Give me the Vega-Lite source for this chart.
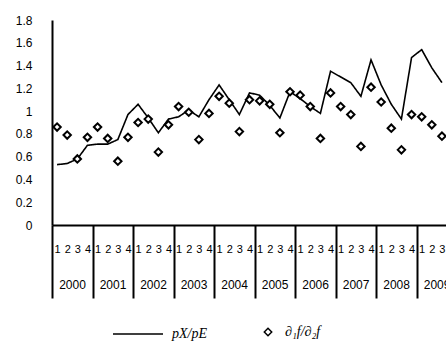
{
  "$schema": "https://vega.github.io/schema/vega-lite/v6.json",
  "autosize": "none",
  "padding": {"left": 52, "top": 20, "right": 0, "bottom": 118},
  "width": 395,
  "height": 205,
  "background": "white",
  "config": {
    "view": {"stroke": null},
    "font": "Liberation Sans",
    "axis": {"labelColor": "black", "labelFont": "Liberation Sans", "grid": false, "title": null},
    "axisY": {
      "values": [0, 0.2, 0.4, 0.6, 0.8, 1, 1.2, 1.4, 1.6, 1.8],
      "format": ".1~f",
      "ticks": false, "tickSize": 0,
      "domainColor": "black", "domainWidth": 2,
      "labelPadding": 20, "labelFontSize": 12,
      "labelOverlap": false, "labelFlush": false, "labelBound": false
    }
  },
  "data": {
    "values": [
      {"i": 1, "year": 2000, "q": 1, "px": 0.53, "ratio": 0.86},
      {"i": 2, "year": 2000, "q": 2, "px": 0.54, "ratio": 0.79},
      {"i": 3, "year": 2000, "q": 3, "px": 0.58, "ratio": 0.58},
      {"i": 4, "year": 2000, "q": 4, "px": 0.70, "ratio": 0.77},
      {"i": 5, "year": 2001, "q": 1, "px": 0.71, "ratio": 0.86},
      {"i": 6, "year": 2001, "q": 2, "px": 0.71, "ratio": 0.76},
      {"i": 7, "year": 2001, "q": 3, "px": 0.75, "ratio": 0.56},
      {"i": 8, "year": 2001, "q": 4, "px": 0.97, "ratio": 0.77},
      {"i": 9, "year": 2002, "q": 1, "px": 1.06, "ratio": 0.90},
      {"i": 10, "year": 2002, "q": 2, "px": 0.94, "ratio": 0.93},
      {"i": 11, "year": 2002, "q": 3, "px": 0.81, "ratio": 0.64},
      {"i": 12, "year": 2002, "q": 4, "px": 0.93, "ratio": 0.88},
      {"i": 13, "year": 2003, "q": 1, "px": 0.95, "ratio": 1.04},
      {"i": 14, "year": 2003, "q": 2, "px": 1.01, "ratio": 0.99},
      {"i": 15, "year": 2003, "q": 3, "px": 0.95, "ratio": 0.75},
      {"i": 16, "year": 2003, "q": 4, "px": 1.10, "ratio": 0.98},
      {"i": 17, "year": 2004, "q": 1, "px": 1.23, "ratio": 1.13},
      {"i": 18, "year": 2004, "q": 2, "px": 1.10, "ratio": 1.07},
      {"i": 19, "year": 2004, "q": 3, "px": 0.97, "ratio": 0.82},
      {"i": 20, "year": 2004, "q": 4, "px": 1.16, "ratio": 1.10},
      {"i": 21, "year": 2005, "q": 1, "px": 1.14, "ratio": 1.09},
      {"i": 22, "year": 2005, "q": 2, "px": 1.05, "ratio": 1.06},
      {"i": 23, "year": 2005, "q": 3, "px": 0.94, "ratio": 0.81},
      {"i": 24, "year": 2005, "q": 4, "px": 1.17, "ratio": 1.17},
      {"i": 25, "year": 2006, "q": 1, "px": 1.11, "ratio": 1.14},
      {"i": 26, "year": 2006, "q": 2, "px": 1.04, "ratio": 1.04},
      {"i": 27, "year": 2006, "q": 3, "px": 0.98, "ratio": 0.76},
      {"i": 28, "year": 2006, "q": 4, "px": 1.35, "ratio": 1.16},
      {"i": 29, "year": 2007, "q": 1, "px": 1.30, "ratio": 1.04},
      {"i": 30, "year": 2007, "q": 2, "px": 1.25, "ratio": 0.97},
      {"i": 31, "year": 2007, "q": 3, "px": 1.13, "ratio": 0.69},
      {"i": 32, "year": 2007, "q": 4, "px": 1.45, "ratio": 1.21},
      {"i": 33, "year": 2008, "q": 1, "px": 1.23, "ratio": 1.08},
      {"i": 34, "year": 2008, "q": 2, "px": 1.06, "ratio": 0.85},
      {"i": 35, "year": 2008, "q": 3, "px": 0.93, "ratio": 0.66},
      {"i": 36, "year": 2008, "q": 4, "px": 1.47, "ratio": 0.97},
      {"i": 37, "year": 2009, "q": 1, "px": 1.54, "ratio": 0.95},
      {"i": 38, "year": 2009, "q": 2, "px": 1.38, "ratio": 0.88},
      {"i": 39, "year": 2009, "q": 3, "px": 1.25, "ratio": 0.78}
    ]
  },
  "resolve": {"axis": {"x": "independent"}},
  "layer": [
    {
      "mark": {"type": "line", "color": "black", "strokeWidth": 1.6},
      "encoding": {
        "x": {
          "field": "i", "type": "quantitative",
          "scale": {"domain": [0.5, 39.5], "nice": false, "zero": false},
          "axis": {
            "orient": "bottom",
            "values": [1,2,3,4,5,6,7,8,9,10,11,12,13,14,15,16,17,18,19,20,21,22,23,24,25,26,27,28,29,30,31,32,33,34,35,36,37,38,39],
            "labelExpr": "(datum.value - 1) % 4 + 1",
            "ticks": false, "tickSize": 0,
            "domain": true, "domainColor": "black", "domainWidth": 2,
            "labelPadding": 18, "labelFontSize": 11,
            "labelOverlap": false, "labelFlush": false, "labelBound": false
          }
        },
        "y": {
          "field": "px", "type": "quantitative",
          "scale": {"domain": [0, 1.8], "nice": false, "zero": true}
        },
        "strokeDash": {
          "datum": "pX/pE",
          "scale": {"domain": ["pX/pE"], "range": [[1, 0]]},
          "legend": {
            "orient": "none", "legendX": 60, "legendY": 288,
            "title": null, "symbolType": "stroke", "symbolSize": 2500,
            "symbolStrokeColor": "black", "symbolStrokeWidth": 1.6,
            "labelFont": "Liberation Serif", "labelFontStyle": "italic",
            "labelFontSize": 14, "labelColor": "black", "labelOffset": 8, "padding": 0,
            "encode": {"symbols": {"update": {"stroke": {"value": "black"}, "strokeWidth": {"value": 1.6}, "strokeDash": {"value": [1, 0]}}}}
          }
        }
      }
    },
    {
      "mark": {"type": "point", "filled": true, "fill": "white", "stroke": "black", "strokeWidth": 2, "size": 55, "opacity": 1},
      "encoding": {
        "x": {
          "field": "i", "type": "quantitative",
          "axis": {
            "orient": "bottom",
            "values": [0.5, 4.5, 8.5, 12.5, 16.5, 20.5, 24.5, 28.5, 32.5, 36.5, 39.5],
            "labelExpr": "datum.value < 39 ? toString(2000 + (datum.value - 0.5) / 4) : ''",
            "ticks": true, "tickSize": 73, "tickColor": "black", "tickWidth": 2,
            "domain": false,
            "labelOffset": 20, "labelPadding": -19, "labelFontSize": 12,
            "labelAlign": "center", "labelBaseline": "top",
            "labelOverlap": false, "labelFlush": false, "labelBound": false
          }
        },
        "y": {"field": "ratio", "type": "quantitative"},
        "shape": {
          "datum": "∂₁f/∂₂f",
          "scale": {"domain": ["∂₁f/∂₂f"], "range": ["diamond"]},
          "legend": {
            "orient": "none", "legendX": 209, "legendY": 305,
            "title": null, "symbolType": "diamond", "symbolSize": 55,
            "labelFont": "Liberation Serif", "labelFontStyle": "italic",
            "labelFontSize": 14, "labelColor": "black", "labelOffset": 10, "padding": 0,
            "encode": {"symbols": {"update": {"stroke": {"value": "black"}, "fill": {"value": "white"}, "strokeWidth": {"value": 2}, "opacity": {"value": 1}}}}
          }
        }
      }
    }
  ]
}
